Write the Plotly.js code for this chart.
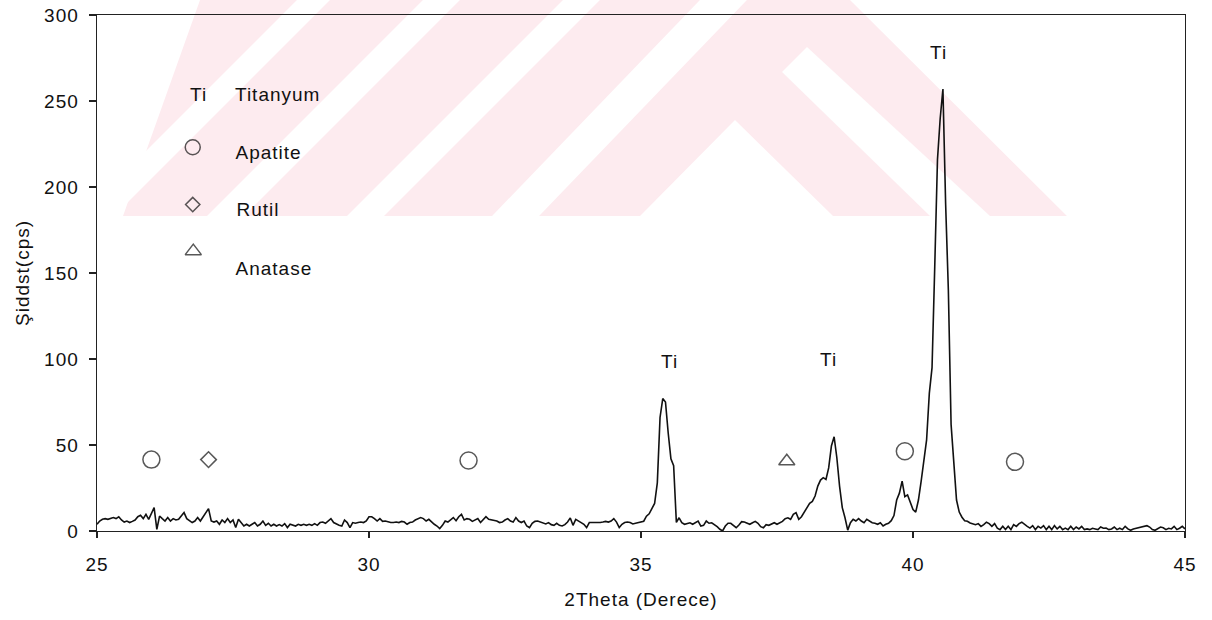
<!DOCTYPE html>
<html>
<head>
<meta charset="utf-8">
<script src="https://cdn.plot.ly/plotly-3.0.1.min.js"></script>
<style>
html,body{margin:0;padding:0;background:#fff;}
#chart{width:1212px;height:620px;}
.main-svg text{letter-spacing:1px;}
</style>
</head>
<body>
<div id="chart"></div>
<script>
// ---- data ----
const xStart = 25;
const xStep = 0.05;
const intensity = [
  // 25.00 - 25.95
  3.9, 5.8, 6.8, 7.2, 6.8, 7.2, 7.8, 7.2, 8.3, 6.4, 5.2, 5.8, 4.9, 5.6, 6.4, 8.3, 9.1, 7.2, 9.7, 6.8,
  // 26.00 - 26.95
  10.7, 13.6, 1.0, 8.7, 7.2, 5.8, 7.8, 5.8, 7.2, 6.4, 6.8, 8.7, 10.7, 7.2, 5.8, 4.9, 5.8, 7.8, 5.8, 8.3,
  // 27.00 - 27.95
  10.7, 13.0, 5.8, 5.2, 5.8, 3.9, 6.4, 4.9, 7.2, 4.9, 6.4, 2.0, 6.8, 4.9, 2.9, 3.9, 2.9, 3.9, 4.9, 2.9,
  // 28.00 - 28.95
  3.9, 5.8, 3.3, 4.5, 2.9, 3.9, 2.9, 3.7, 2.9, 4.3, 2.0, 3.9, 3.3, 2.9, 3.9, 3.3, 3.9, 3.3, 3.9, 3.3,
  // 29.00 - 29.95
  4.3, 3.3, 4.9, 5.2, 4.5, 5.8, 7.2, 4.9, 3.9, 3.3, 2.9, 6.4, 4.9, 2.0, 4.9, 4.5, 4.9, 5.2, 4.9, 5.8,
  // 30.00 - 30.95
  8.3, 8.3, 7.2, 5.8, 7.2, 5.6, 5.8, 5.2, 4.9, 4.9, 5.2, 4.9, 5.6, 5.2, 3.9, 4.9, 5.2, 6.4, 7.2, 7.8,
  // 31.00 - 31.95
  7.2, 5.8, 6.8, 5.2, 3.9, 2.9, 1.4, 3.3, 5.8, 5.2, 6.4, 7.8, 6.0, 8.3, 9.7, 6.4, 7.2, 6.8, 5.6, 6.4,
  // 32.00 - 32.95
  7.2, 4.9, 6.8, 8.3, 6.8, 6.4, 6.4, 5.8, 4.9, 5.2, 6.4, 7.2, 5.8, 5.2, 7.8, 5.8, 4.9, 5.8, 2.9, 2.0,
  // 33.00 - 33.95
  4.5, 5.6, 5.8, 5.2, 4.9, 4.1, 4.9, 3.7, 3.3, 4.5, 3.3, 2.9, 3.7, 5.2, 7.6, 3.3, 6.8, 5.6, 4.9, 3.9,
  // 34.00 - 34.95
  2.0, 4.9, 4.9, 4.5, 4.7, 4.9, 5.2, 5.6, 5.2, 5.8, 7.2, 5.2, 2.0, 3.9, 4.9, 5.2, 4.9, 4.1, 4.5, 4.9,
  // 35.00 - 35.95
  5.1, 5.7, 8.6, 10, 13, 16, 28, 66, 77, 75, 57, 42, 38, 5, 7.7, 4.8, 3.9, 4.5, 4.8, 3.9,
  // 36.00 - 36.95
  4.8, 5.8, 2.9, 3.3, 5.8, 4.5, 4.8, 3.9, 2.5, 1.0, 0, 2.9, 4.5, 4.5, 2.9, 1.9, 3.5, 5.4, 5.2, 4.3,
  // 37.00 - 37.95
  3.9, 4.8, 5.6, 4.5, 2.5, 1.9, 3.7, 3.3, 3.9, 4.8, 3.9, 4.8, 5.6, 7.2, 7.7, 6.8, 9.7, 10.7, 6.8, 8.3,
  // 38.00 - 38.95
  11.0, 13.6, 16.1, 17.2, 20.3, 26.1, 29.6, 31.0, 30, 36.7, 49.4, 54.8, 42.6, 26.1, 13.6, 7.7, 0.5, 4.8, 6.8, 5.8,
  // 39.00 - 39.95
  7.2, 5.8, 4.8, 6.8, 5.8, 4.8, 4.5, 3.9, 4.8, 2.9, 3.9, 4.5, 6, 9, 18, 22, 29, 20, 21, 17,
  // 40.00 - 40.95
  12.5, 11, 18, 29, 41, 53, 80, 95, 154, 216, 240, 257, 190, 140, 62, 38, 18, 11, 8, 6,
  // 41.00 - 41.95
  5.7, 4.7, 4.3, 3.7, 4.3, 2.7, 3.7, 5.1, 4.3, 2.7, 4.3, 1.7, 0.8, 2.7, 0.8, 2.7, 0.8, 3.7, 2.7, 4.3,
  // 42.00 - 42.95
  5.1, 3.7, 2.7, 1.7, 3.1, 0.8, 2.7, 1.7, 3.1, 0.8, 2.7, 0.8, 3.1, 1.2, 2.7, 0.8, 1.7, 0.8, 2.7, 0.8,
  // 43.00 - 43.95
  2.3, 1.2, 2.7, 0.8, 1.2, 0.8, 1.6, 1.2, 0.8, 2.3, 1.6, 1.7, 0.8, 1.2, 2.3, 0.8, 1.6, 0.8, 2.7, 1.2,
  // 44.00 - 44.95
  0.4, 1.2, 1.6, 1.9, 2.3, 2.7, 3.1, 2.3, 0.8, 0.4, 1.2, 2.3, 1.9, 0.8, 1.6, 1.2, 2.7, 0.8, 1.6, 2.7,
  // 45.00
  1.2
];

// phase markers on the pattern
const phaseX = [26.0, 27.05, 31.83, 37.68, 39.85, 41.875];
const phaseY = [41.5, 41.5, 41, 40.6, 46.4, 40.2];
const phaseSymbol = ['circle-open', 'diamond-open', 'circle-open', 'triangle-up-open', 'circle-open', 'circle-open'];

// peak labels
const peakLabelX = [35.52, 38.44, 40.47];
const peakLabelY = [98.5, 99.7, 278];
const peakLabelText = ['Ti', 'Ti', 'Ti'];

// key (legend drawn inside plot)
const keySymbolX = [26.76, 26.76, 26.77];
const keySymbolY = [223.1, 189.8, 162.7];
const keySymbol = ['circle-open', 'diamond-open', 'triangle-up-open'];
const keyTiX = 26.86, keyTiY = 253.8;
const keyTextX = 27.57;
const keyTextY = [253.8, 220, 187, 152.6];
const keyText = ['Titanyum', 'Apatite', 'Rutil', 'Anatase'];

const xTicks = [25, 30, 35, 40, 45];
const yTicks = [0, 50, 100, 150, 200, 250, 300];

// ---- layout helpers (pixel frame of the plot) ----
const W = 1212, H = 620;
const PL = 97, PR = 1185, PT = 15, PB = 531;
function px(x) { return ((x - PL) / (PR - PL)).toFixed(4); }
function py(y) { return ((PB - y) / (PB - PT)).toFixed(4); }
function poly(pts) {
  return 'M' + pts.map(p => px(p[0]) + ',' + py(p[1])).join(' L') + ' Z';
}
const PINK = '#fdebef';
const bgShapes = [
  {fill: PINK, pts: [[200,0],[850,0],[1067,216],[123,216]]},
  {fill: '#ffffff', pts: [[297,0],[330,0],[114,216],[81,216]]},
  {fill: '#ffffff', pts: [[423,0],[460,0],[244,216],[207,216]]},
  {fill: '#ffffff', pts: [[563,0],[600,0],[384,216],[347,216]]},
  {fill: '#ffffff', pts: [[700,0],[747,0],[539,216],[492,216]]},
  {fill: '#ffffff', pts: [[735,120],[833,216],[640,216]]},
  {fill: '#ffffff', pts: [[807,47],[990,216],[930,216],[782,72]]}
].map(s => ({
  type: 'path', xref: 'paper', yref: 'paper', layer: 'below',
  path: poly(s.pts), fillcolor: s.fill, line: {width: 0}
}));

const FONT = 'Liberation Sans, Arial, sans-serif';
const TXT = '#111111';

const traces = [
  {
    type: 'scatter', mode: 'lines',
    x0: xStart, dx: xStep, y: intensity,
    line: {color: '#111111', width: 1.6},
    hoverinfo: 'x+y', showlegend: false
  },
  {
    type: 'scatter', mode: 'markers',
    x: phaseX, y: phaseY,
    marker: {symbol: phaseSymbol, size: [17, 12, 17, 14, 17, 17], color: '#111111', line: {color: '#111111', width: 1.5}},
    showlegend: false, hoverinfo: 'skip'
  },
  {
    type: 'scatter', mode: 'markers',
    x: keySymbolX, y: keySymbolY,
    marker: {symbol: keySymbol, size: [15, 11, 14], color: '#111111', line: {color: '#111111', width: 1.5}},
    showlegend: false, hoverinfo: 'skip'
  }
];

const annotations = [];
for (let i = 0; i < peakLabelX.length; i++) {
  annotations.push({x: peakLabelX[i], y: peakLabelY[i], text: peakLabelText[i], showarrow: false,
    xanchor: 'center', yanchor: 'middle', font: {family: FONT, size: 19, color: TXT}});
}
annotations.push({x: keyTiX, y: keyTiY, text: 'Ti', showarrow: false, xanchor: 'center', yanchor: 'middle',
  font: {family: FONT, size: 19, color: TXT}});
for (let i = 0; i < keyText.length; i++) {
  annotations.push({x: keyTextX, y: keyTextY[i], text: keyText[i], showarrow: false,
    xanchor: 'left', yanchor: 'middle', font: {family: FONT, size: 19, color: TXT}});
}

const layout = {
  width: W, height: H,
  margin: {l: PL, r: W - PR, t: PT, b: H - PB, pad: 0},
  paper_bgcolor: '#ffffff', plot_bgcolor: 'rgba(0,0,0,0)',
  showlegend: false,
  font: {family: FONT, size: 19, color: TXT},
  xaxis: {
    range: [25, 45], tickvals: xTicks, ticktext: xTicks.map(String),
    showgrid: false, zeroline: false,
    showline: true, linecolor: '#222222', linewidth: 1.2, mirror: true,
    ticks: 'outside', ticklen: 6, tickcolor: '#222222', tickwidth: 1.2,
    ticklabelstandoff: 10,
    tickfont: {family: FONT, size: 19, color: TXT},
    title: {text: '2Theta (Derece)', font: {family: FONT, size: 19, color: TXT}, standoff: 18}
  },
  yaxis: {
    range: [0, 300], tickvals: yTicks, ticktext: yTicks.map(String),
    showgrid: false, zeroline: false,
    showline: true, linecolor: '#222222', linewidth: 1.4, mirror: true,
    ticks: 'outside', ticklen: 7, tickcolor: '#222222', tickwidth: 1.2,
    ticklabelstandoff: 6,
    tickfont: {family: FONT, size: 19, color: TXT},
    title: {text: 'Şiddst(cps)', font: {family: FONT, size: 19, color: TXT}, standoff: 12}
  },
  shapes: bgShapes,
  annotations: annotations
};

Plotly.newPlot('chart', traces, layout, {displayModeBar: false, staticPlot: true});
</script>
</body>
</html>
